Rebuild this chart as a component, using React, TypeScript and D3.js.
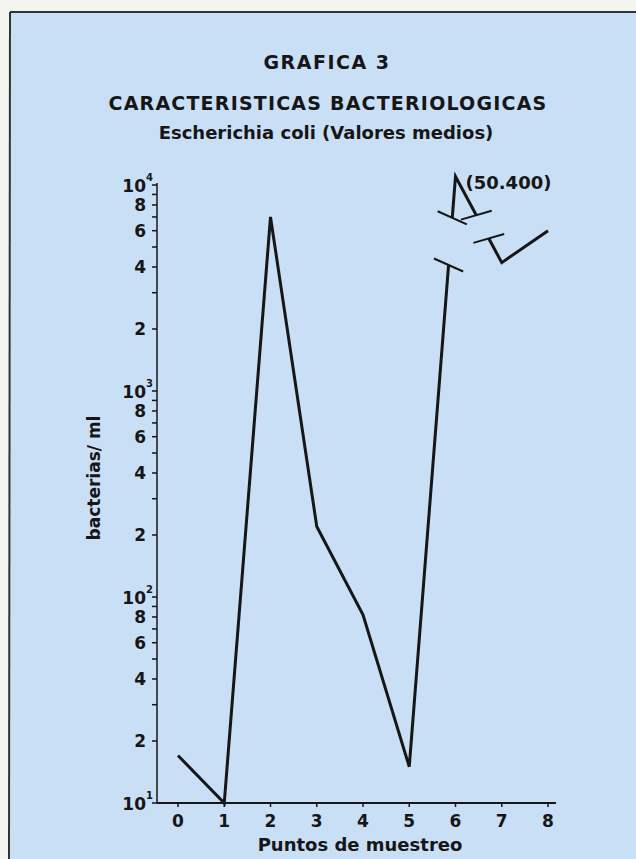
import React from 'react';
import * as d3 from 'd3';

// sampling points and mean E. coli counts (bacterias/ml)
const puntos = [0, 1, 2, 3, 4, 5, 6, 7, 8];
const valores = [17, 10, 7000, 220, 82, 15, 50400, 4200, 6000];

// point 6 is off the scale: drawn just above 10^4 on a broken axis
const puntoFueraEscala = 6;
const valorMostrado = 11000;
const etiquetaFueraEscala = '(50.400)';

// breaks in the line: segment index, start/end fraction along it
const cortes = [
  { seg: 5, from: 0.85, to: 0.93, angle: 24 },
  { seg: 6, from: 0.45, to: 0.72, angle: -16 }
];

const decadas = [10, 100, 1000, 10000];
const exponentes = ['1', '2', '3', '4'];
const multiplosConEtiqueta = [2, 4, 6, 8];
const multiplosMenores = [2, 3, 4, 5, 6, 7, 8, 9];

const titulo = 'GRAFICA 3';
const subtitulo = 'CARACTERISTICAS BACTERIOLOGICAS';
const subtitulo2 = 'Escherichia coli (Valores medios)';
const ejeX = 'Puntos de muestreo';
const ejeY = 'bacterias/ ml';

const W = 636;
const H = 859;
const axisLeft = 157;
const axisBottom = 803;
const font = '"DejaVu Sans", Verdana, sans-serif';
const ink = '#161616';
const paper = '#c9dff6';

const x = d3.scaleLinear().domain([0, 8]).range([178, 548]);
const y = d3.scaleLog().domain([10, 10000]).range([axisBottom, 185]);

function App() {
  const pts = puntos.map((p, i) => {
    const v = i === puntoFueraEscala ? valorMostrado : valores[i];
    return [x(p), y(v)] as [number, number];
  });

  const lerp = (a: [number, number], b: [number, number], t: number): [number, number] =>
    [a[0] + (b[0] - a[0]) * t, a[1] + (b[1] - a[1]) * t];

  // split the polyline at the breaks
  const pieces: [number, number][][] = [];
  const marks: { p: [number, number]; angle: number }[] = [];
  let current: [number, number][] = [pts[0]];
  for (let i = 0; i < pts.length - 1; i++) {
    const c = cortes.find((g) => g.seg === i);
    if (c) {
      const a = lerp(pts[i], pts[i + 1], c.from);
      const b = lerp(pts[i], pts[i + 1], c.to);
      current.push(a);
      pieces.push(current);
      current = [b];
      marks.push({ p: a, angle: c.angle });
      marks.push({ p: b, angle: c.angle });
    }
    current.push(pts[i + 1]);
  }
  pieces.push(current);

  const line = d3.line();
  const peak = pts[puntoFueraEscala];

  const yTicks: { v: number; label?: string }[] = [];
  decadas.forEach((d, k) => {
    if (k < decadas.length - 1) {
      multiplosMenores.forEach((m) => {
        yTicks.push({ v: d * m, label: multiplosConEtiqueta.includes(m) ? String(m) : undefined });
      });
    }
  });

  return (
    <svg width={W} height={H} style={{ position: 'absolute', left: 0, top: 0 }} fontFamily={font}>
      <rect x={0} y={0} width={W} height={H} fill="#f4f4f1" />
      <rect x={10} y={12} width={W - 10} height={H - 12} fill={paper} />
      <line x1={10} y1={12} x2={W} y2={12} stroke="#333" strokeWidth={2} />
      <line x1={10} y1={12} x2={9} y2={H} stroke="#333" strokeWidth={2} />

      <g fill={ink} fontWeight="bold" textAnchor="middle">
        <text x={327} y={69} fontSize={19} letterSpacing={1.5}>{titulo}</text>
        <text x={328} y={110} fontSize={19} letterSpacing={1.2}>{subtitulo}</text>
        <text x={326} y={139} fontSize={18}>{subtitulo2}</text>
      </g>

      {/* y axis */}
      <line x1={axisLeft} y1={183} x2={axisLeft} y2={axisBottom} stroke={ink} strokeWidth={1.5} />
      {yTicks.map((t) => (
        <g key={t.v}>
          <line x1={axisLeft - 5} x2={axisLeft} y1={y(t.v)} y2={y(t.v)} stroke={ink} strokeWidth={1.5} />
          {t.label && (
            <text x={146} y={y(t.v)} dy="0.36em" textAnchor="end" fontSize={17} fontWeight="bold" fill={ink}>
              {t.label}
            </text>
          )}
        </g>
      ))}
      {decadas.map((d, k) => (
        <g key={d}>
          <line x1={axisLeft - 5} x2={axisLeft} y1={y(d)} y2={y(d)} stroke={ink} strokeWidth={1.5} />
          <text x={146} y={y(d)} dy="0.4em" textAnchor="end" fontSize={17} fontWeight="bold" fill={ink}>10</text>
          <text x={146} y={y(d) - 4} fontSize={10} fontWeight="bold" fill={ink}>{exponentes[k]}</text>
        </g>
      ))}
      <text
        transform={`translate(100,478) rotate(-90)`}
        textAnchor="middle"
        fontSize={17}
        fontWeight="bold"
        fill={ink}
      >
        {ejeY}
      </text>

      {/* x axis */}
      <line x1={axisLeft} y1={axisBottom} x2={556} y2={axisBottom} stroke={ink} strokeWidth={2} />
      {puntos.map((p) => (
        <g key={p}>
          <line x1={x(p)} x2={x(p)} y1={axisBottom} y2={axisBottom + 4} stroke={ink} strokeWidth={1.5} />
          <text x={x(p)} y={827} textAnchor="middle" fontSize={17} fontWeight="bold" fill={ink}>{p}</text>
        </g>
      ))}
      <text x={360} y={851} textAnchor="middle" fontSize={18} fontWeight="bold" fill={ink}>{ejeX}</text>

      {/* data */}
      {pieces.map((pc, i) => (
        <path key={i} d={line(pc) || ''} fill="none" stroke={ink} strokeWidth={3} strokeLinejoin="miter" />
      ))}
      {marks.map((m, i) => {
        const r = (m.angle * Math.PI) / 180;
        const dx = Math.cos(r) * 16;
        const dy = Math.sin(r) * 16;
        return (
          <line
            key={i}
            x1={m.p[0] - dx}
            y1={m.p[1] - dy}
            x2={m.p[0] + dx}
            y2={m.p[1] + dy}
            stroke={ink}
            strokeWidth={2}
          />
        );
      })}
      <text x={peak[0] + 10} y={peak[1] + 13} fontSize={18} fontWeight="bold" fill={ink}>
        {etiquetaFueraEscala}
      </text>
    </svg>
  );
}

export default App;
